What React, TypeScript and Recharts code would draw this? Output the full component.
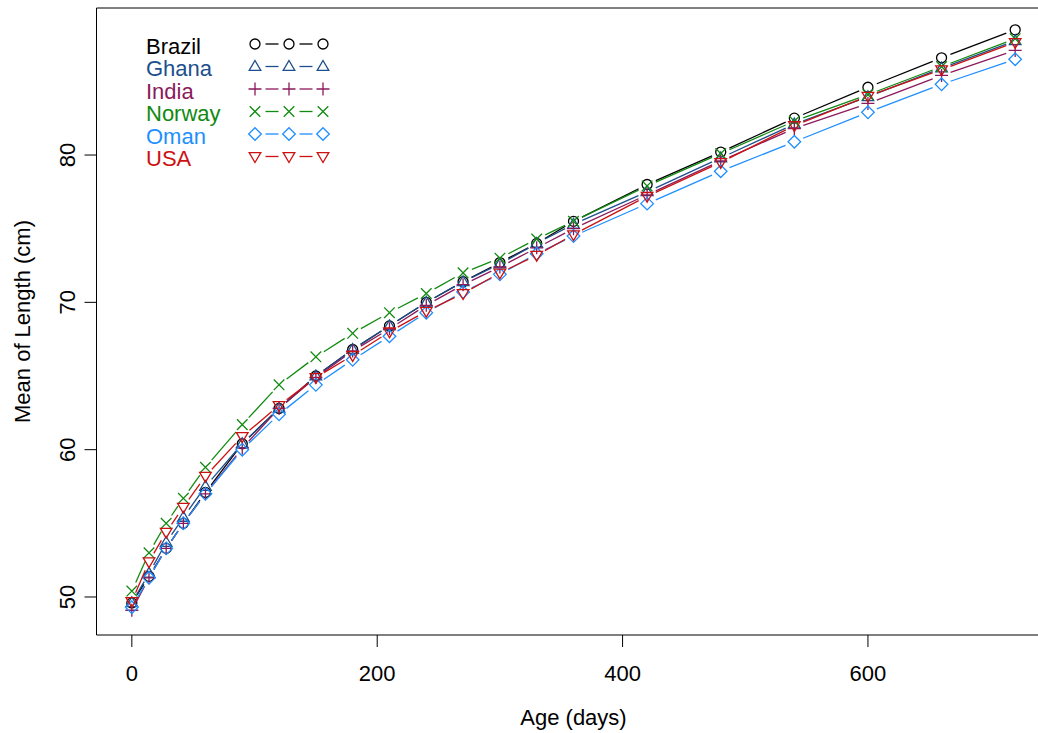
import React from 'react'
import { LineChart, Line, XAxis, YAxis, ReferenceArea, Legend, Label } from 'recharts'

const days = [0, 14, 28, 42, 60, 90, 120, 150, 180, 210, 240, 270, 300, 330, 360, 420, 480, 540, 600, 660, 720]

const brazil = [49.6, 51.4, 53.3, 55.0, 57.1, 60.4, 62.8, 65.0, 66.8, 68.4, 70.0, 71.4, 72.7, 74.0, 75.5, 78.0, 80.2, 82.5, 84.6, 86.6, 88.5]
const ghana = [49.6, 51.6, 53.7, 55.4, 57.5, 60.4, 62.8, 65.0, 66.8, 68.4, 70.0, 71.4, 72.6, 74.0, 75.3, 77.5, 79.8, 82.1, 83.95, 85.9, 87.75]
const india = [49.1, 51.3, 53.3, 55.0, 57.0, 60.1, 62.8, 64.9, 66.7, 68.2, 69.8, 71.2, 72.4, 73.7, 75.0, 77.3, 79.6, 81.8, 83.5, 85.4, 87.1]
const norway = [50.4, 53.0, 55.0, 56.7, 58.8, 61.7, 64.4, 66.3, 67.9, 69.3, 70.6, 72.0, 73.0, 74.3, 75.5, 77.9, 80.1, 82.3, 84.1, 86.0, 87.9]
const oman = [49.3, 51.3, 53.3, 55.0, 57.0, 60.0, 62.4, 64.4, 66.1, 67.7, 69.3, 70.7, 71.9, 73.3, 74.5, 76.7, 78.9, 80.9, 82.9, 84.8, 86.5]
const usa = [49.7, 52.4, 54.4, 56.1, 58.2, 60.9, 63.0, 64.9, 66.4, 68.0, 69.4, 70.6, 72.0, 73.2, 74.6, 77.2, 79.5, 82.0, 84.0, 85.8, 87.65]

const countries = ['Brazil', 'Ghana', 'India', 'Norway', 'Oman', 'USA']
const seriesValues = [brazil, ghana, india, norway, oman, usa]
const xTicks = [0, 200, 400, 600]
const yTicks = [50, 60, 70, 80]

const COLORS = ['#000000', '#1c4f8c', '#8b1a5c', '#118a11', '#1e8fff', '#cc1111']
const SHAPES = ['circle', 'triangle', 'plus', 'cross', 'diamond', 'triangleDown']

const FONT = '"Liberation Sans", Arial, sans-serif'

const chartData = days.map((d, i) => {
  const row: any = { day: d }
  countries.forEach((c, k) => { row[c] = seriesValues[k][i] })
  return row
})

function Marker({ shape, x, y, color }: { shape: string; x: number; y: number; color: string }) {
  const p = { fill: 'none', stroke: color, strokeWidth: 1.3 }
  switch (shape) {
    case 'circle':
      return <circle cx={x} cy={y} r={5} {...p} />
    case 'triangle':
      return <path d={`M${x},${y - 6} L${x + 5.8},${y + 3.8} L${x - 5.8},${y + 3.8} Z`} {...p} />
    case 'plus':
      return <path d={`M${x - 6.5},${y} H${x + 6.5} M${x},${y - 6.5} V${y + 6.5}`} {...p} />
    case 'cross':
      return <path d={`M${x - 5.3},${y - 5.3} L${x + 5.3},${y + 5.3} M${x - 5.3},${y + 5.3} L${x + 5.3},${y - 5.3}`} {...p} />
    case 'diamond':
      return <path d={`M${x},${y - 6.3} L${x + 6.3},${y} L${x},${y + 6.3} L${x - 6.3},${y} Z`} {...p} />
    default:
      return <path d={`M${x},${y + 6} L${x + 5.8},${y - 3.8} L${x - 5.8},${y - 3.8} Z`} {...p} />
  }
}

// line segment between two points, with a gap around each marker (R type = "b")
function gapSegment(x1: number, y1: number, x2: number, y2: number, color: string, key: string, gap = 9.5) {
  const dx = x2 - x1
  const dy = y2 - y1
  const len = Math.hypot(dx, dy)
  if (len <= 2 * gap) return null
  const ux = dx / len
  const uy = dy / len
  return (
    <line key={key} x1={x1 + ux * gap} y1={y1 + uy * gap} x2={x2 - ux * gap} y2={y2 - uy * gap}
      stroke={color} strokeWidth={1.3} />
  )
}

const cache: Record<string, { x: number; y: number }[]> = {}

const makeDot = (k: number) => (props: any) => {
  const { cx, cy, index, points } = props
  const name = countries[k]
  if (!cache[name]) cache[name] = []
  cache[name][index] = { x: cx, y: cy }
  const prev = points ? points[index - 1] : cache[name][index - 1]
  return (
    <g key={`${name}-${index}`}>
      {prev && prev.x != null ? gapSegment(prev.x, prev.y, cx, cy, COLORS[k], 's') : null}
      <Marker shape={SHAPES[k]} x={cx} y={cy} color={COLORS[k]} />
    </g>
  )
}

function LegendBox() {
  const sx = [255, 289, 323]
  return (
    <svg width={360} height={180} style={{ display: 'block' }}>
      {countries.map((c, k) => {
        const y = 44 + k * 22.5
        return (
          <g key={c}>
            <text x={146} y={y + 2} dominantBaseline="central" fontSize={22} fontFamily={FONT} fill={COLORS[k]}>{c}</text>
            {gapSegment(sx[0], y, sx[1], y, COLORS[k], 'a', 10.5)}
            {gapSegment(sx[1], y, sx[2], y, COLORS[k], 'b', 10.5)}
            {sx.map((x) => <Marker key={x} shape={SHAPES[k]} x={x} y={y} color={COLORS[k]} />)}
          </g>
        )
      })}
    </svg>
  )
}

function YTick(props: any) {
  const { x, y, payload } = props
  return (
    <text x={x} y={y} transform={`rotate(-90 ${x} ${y})`} textAnchor="middle" dominantBaseline="central"
      fontSize={22} fontFamily={FONT} fill="#000">{payload.value}</text>
  )
}

export default function App() {
  return (
    <div style={{ position: 'absolute', left: 0, top: 0, width: 1038, height: 733, overflow: 'hidden', background: '#fff' }}>
      <LineChart width={1060} height={733} data={chartData} margin={{ top: 8, right: 9.5, bottom: 0, left: 0 }}>
        <XAxis dataKey="day" type="number" domain={[-28.8, 748.8]} allowDataOverflow ticks={xTicks}
          height={98} axisLine={false} tickSize={12} tickMargin={18} tickLine={{ stroke: '#000' }}
          tick={{ fontSize: 22, fill: '#000', fontFamily: FONT }}>
          <Label content={(p: any) => {
            const vb = p.viewBox
            return <text x={vb.x + vb.width / 2} y={vb.y + 90} textAnchor="middle" fontSize={22} fontFamily={FONT} fill="#000">Age (days)</text>
          }} />
        </XAxis>
        <YAxis type="number" domain={[47.42, 89.98]} allowDataOverflow ticks={yTicks} width={96.5}
          axisLine={false} tickSize={12} tickMargin={17} tickLine={{ stroke: '#000' }} tick={<YTick />}>
          <Label content={(p: any) => {
            const vb = p.viewBox
            const x = vb.x + 22
            const y = vb.y + vb.height / 2
            return <text x={x} y={y} transform={`rotate(-90 ${x} ${y})`} textAnchor="middle" dominantBaseline="central"
              fontSize={22} fontFamily={FONT} fill="#000">Mean of Length (cm)</text>
          }} />
        </YAxis>
        <ReferenceArea x1={-28.8} x2={748.8} y1={47.42} y2={89.98} fill="none" stroke="#000" strokeWidth={1} ifOverflow="visible" />
        {countries.map((c, k) => (
          <Line key={c} dataKey={c} stroke="none" dot={makeDot(k)} activeDot={false}
            isAnimationActive={false} legendType="none" />
        ))}
        <Legend layout="horizontal" verticalAlign="middle" align="center" content={() => <LegendBox />}
          wrapperStyle={{ position: 'absolute', left: 0, top: 0, width: 360, height: 180 }} />
      </LineChart>
    </div>
  )
}
